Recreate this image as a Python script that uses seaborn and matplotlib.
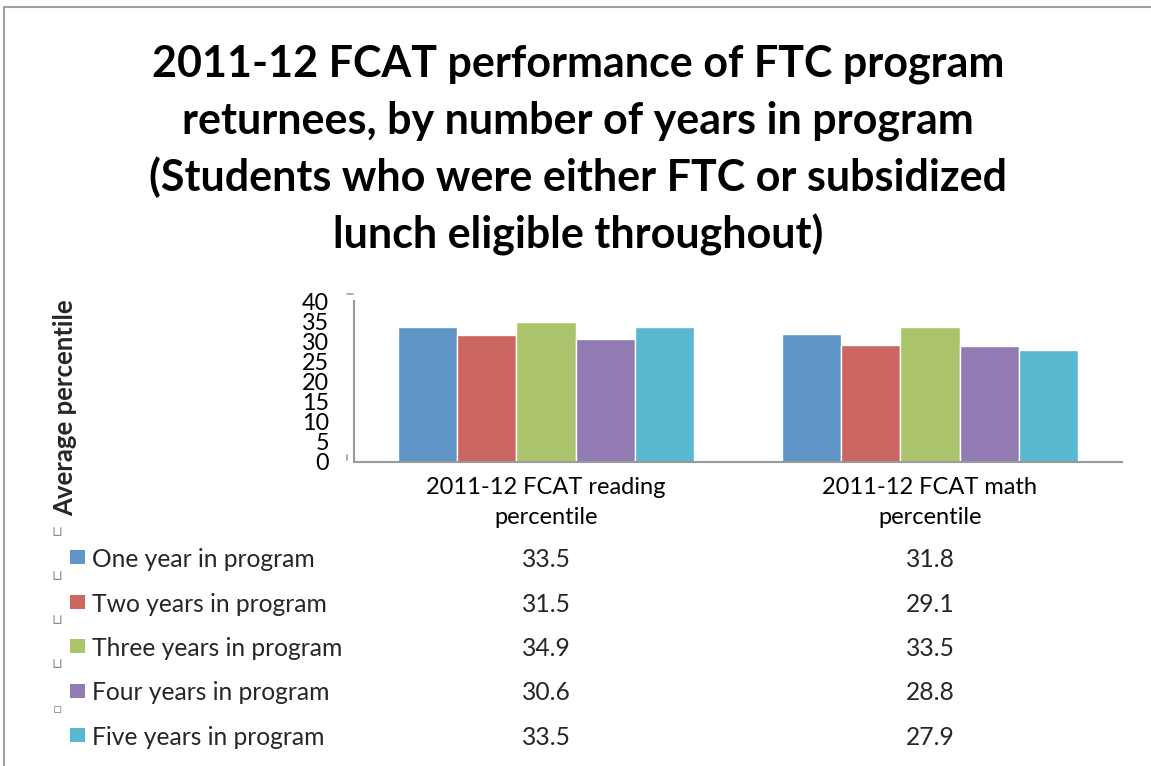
import matplotlib
matplotlib.use("Agg")
import matplotlib.pyplot as plt
import matplotlib.transforms as mtransforms
from matplotlib.patches import Rectangle
from matplotlib.lines import Line2D
import pandas as pd
import seaborn as sns

# data
title_lines = ["2011-12 FCAT performance of FTC program",
               "returnees, by number of years in program",
               "(Students who were either FTC or subsidized",
               "lunch eligible throughout)"]
tests = ["2011-12 FCAT reading\npercentile", "2011-12 FCAT math\npercentile"]
groups = ["One year in program", "Two years in program", "Three years in program",
          "Four years in program", "Five years in program"]
reading = [33.5, 31.5, 34.9, 30.6, 33.5]
math = [31.8, 29.1, 33.5, 28.8, 27.9]
colors = ["#5f95c7", "#cc6660", "#abc46c", "#927ab2", "#57b8d0"]
yticks = list(range(0, 45, 5))

sns.set_theme(style="white")
plt.rcParams["font.family"] = ["Lato", "DejaVu Sans"]

df = pd.DataFrame({
    "test": [tests[0]] * len(groups) + [tests[1]] * len(groups),
    "group": groups * 2,
    "value": reading + math,
})

W, H = 1151, 766
fig = plt.figure(figsize=(W / 100, H / 100), dpi=100)
ax = fig.add_axes([354 / W, 1 - 462 / H, 768 / W, 161 / H])

sns.barplot(data=df, x="test", y="value", hue="group", order=tests,
            hue_order=groups, palette=colors, saturation=1, width=0.771,
            gap=0, errorbar=None, legend=False, ax=ax)

ax.set_ylim(0, 40)
ax.set_yticks(yticks)
ax.set_xlabel("")
ax.set_ylabel("")
ax.tick_params(axis="y", length=0, pad=18, labelsize=16.8, labelcolor="black")
ax.tick_params(axis="x", length=0, pad=11, labelsize=17, labelcolor="black")
for lab in ax.get_xticklabels():
    lab.set_linespacing(1.5)
sns.despine(ax=ax)
for side in ["left", "bottom"]:
    ax.spines[side].set_color("#9a9a9a")
    ax.spines[side].set_linewidth(1.5)

# title, one line at a time
for i, line in enumerate(title_lines):
    fig.text(578 / W, 1 - (76 + i * 57.5) / H, line, ha="center",
             va="baseline", fontsize=31, fontweight="bold", color="black")

fig.text(65 / W, 1 - 408 / H, "Average percentile", rotation=90,
         ha="center", va="center", fontsize=18.5, fontweight="bold")

# data table under the chart
blend = mtransforms.blended_transform_factory(ax.transData, fig.transFigure)
for i, g in enumerate(groups):
    base = 567 + i * 44.5
    fig.add_artist(Rectangle((70 / W, 1 - (base - 3) / H), 15 / W, 14 / H,
                             transform=fig.transFigure, color=colors[i], lw=0))
    fig.text(92 / W, 1 - base / H, g, va="baseline", fontsize=17.7)
    for j, vals in enumerate([reading, math]):
        ax.text(j, 1 - base / H, f"{vals[i]:.1f}", transform=blend,
                ha="center", va="baseline", fontsize=17.7)
    mark = "\u25ab" if i == len(groups) - 1 else "\u2294"
    fig.text(57 / W, 1 - (532 + i * 44) / H, mark, ha="center", va="center",
             fontsize=10, color="#8c8c8c", family="DejaVu Sans")

# slide border and stray axis marks
gray = "#a0a0a0"
fig.add_artist(Line2D([4 / W, 4 / W], [0, 1 - 7 / H], color=gray, lw=1.5))
fig.add_artist(Line2D([4 / W, 1], [1 - 7 / H, 1 - 7 / H], color=gray, lw=1.5))
fig.add_artist(Line2D([347 / W, 353 / W], [1 - 294 / H] * 2, color=gray, lw=1.2))
fig.add_artist(Line2D([347 / W] * 2, [1 - 455 / H, 1 - 460 / H], color=gray, lw=1.2))

fig.savefig("out.png", dpi=100)
